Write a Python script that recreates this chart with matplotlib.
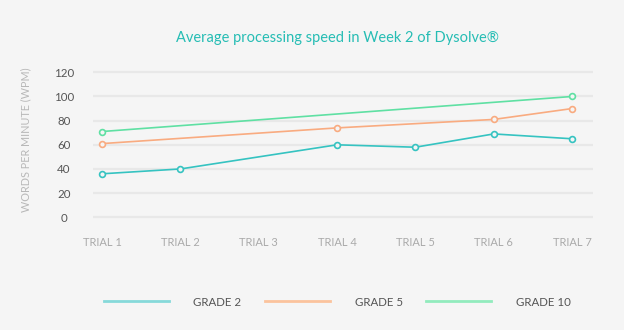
import numpy as np
import matplotlib
matplotlib.use("Agg")
import matplotlib.pyplot as plt
from matplotlib.lines import Line2D

categories = ["TRIAL 1", "TRIAL 2", "TRIAL 3", "TRIAL 4", "TRIAL 5", "TRIAL 6", "TRIAL 7"]
grade2 = [36, 40, np.nan, 60, 58, 69, 65]
grade5 = [61, np.nan, np.nan, 74, np.nan, 81, 90]
grade10 = [71, np.nan, np.nan, np.nan, np.nan, np.nan, 100]
series_names = ["GRADE 2", "GRADE 5", "GRADE 10"]
y_ticks = [0, 20, 40, 60, 80, 100, 120]

line_colors = ["#35c3c1", "#f9ab80", "#5fe0a3"]
legend_colors = ["#86d9da", "#fbc39d", "#92ebbd"]
bg = "#f5f5f5"

plt.rcParams['font.family'] = ['Lato', 'DejaVu Sans']

fig = plt.figure(figsize=(6.24, 3.30), dpi=100, facecolor=bg)
ax = fig.add_axes([93/624, 0.3306, 500/624, 0.4612])
ax.set_facecolor(bg)

x = np.arange(len(categories))
for vals, c in zip([grade2, grade5, grade10], line_colors):
    v = np.array(vals, dtype=float)
    m = ~np.isnan(v)
    ax.plot(x[m], v[m], color=c, lw=1.2, marker='o', ms=4.2,
            mfc=bg, mec=c, mew=1.2, zorder=3, solid_capstyle='round')

ax.set_xlim(-0.115, 6.268)
ax.set_ylim(-3, 123)
ax.set_yticks(y_ticks)
ax.set_yticklabels([str(t) for t in y_ticks])
ax.set_xticks(x)
ax.set_xticklabels(categories)
ax.grid(axis='y', color='#e8e8e8', lw=1.6)
ax.set_axisbelow(True)
for s in ax.spines.values():
    s.set_visible(False)
ax.tick_params(axis='y', length=0, pad=21, labelsize=8.3, labelcolor='#555555')
for lab in ax.get_yticklabels():
    lab.set_ha('center')
ax.tick_params(axis='x', length=0, pad=11.5, labelsize=8, labelcolor='#aaaaaa')

fig.text(337/624, 1 - 37.7/330, "Average processing speed in Week 2 of Dysolve®",
         ha='center', va='center', fontsize=10.5, color='#26bdb4')
fig.text(25.7/624, 1 - 140/330, "WORDS PER MINUTE (WPM)", rotation=90,
         ha='center', va='center', fontsize=7.8, color='#b8b8b8')

handles = [Line2D([0], [0], color=c, lw=2.0) for c in legend_colors]
leg = fig.legend(handles, series_names, loc='center', bbox_to_anchor=(337/624, 1 - 302/330),
                 ncol=3, frameon=False, fontsize=8.3, handlelength=5.7, handletextpad=2.1,
                 columnspacing=2.0)
for t in leg.get_texts():
    t.set_color('#555555')

fig.savefig("out.png", dpi=100, facecolor=bg)
